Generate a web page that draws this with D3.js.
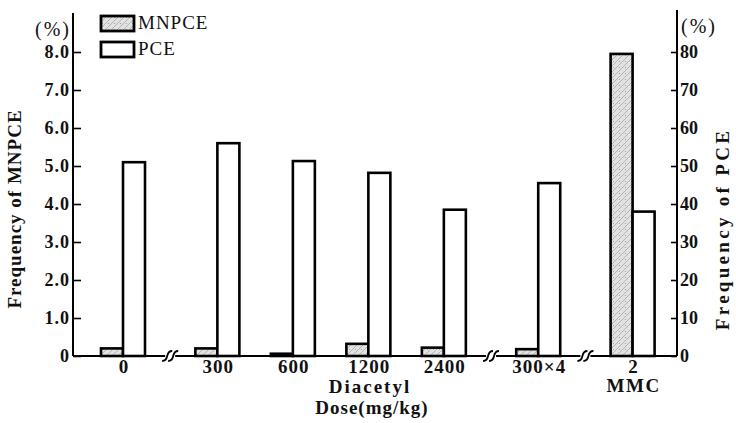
<!DOCTYPE html>
<html>
<head>
<meta charset="utf-8">
<script src="https://cdn.jsdelivr.net/npm/d3@7"></script>
<style>
  body { margin: 0; background: #fff; }
  svg text { font-family: "Liberation Serif", "DejaVu Serif", serif; fill: #111; }
</style>
</head>
<body>
<div id="chart"></div>
<script>
// dose groups (Diacetyl mg/kg, last one is MMC)
const doses = ["0", "300", "600", "1200", "2400", "300×4", "2"];
const mnpce = [0.2, 0.2, 0.06, 0.32, 0.22, 0.18, 7.95];   // %, left axis
const pce   = [51, 56, 51.3, 48.2, 38.5, 45.5, 38];        // %, right axis
const leftTicks  = [0, 1, 2, 3, 4, 5, 6, 7, 8];
const rightTicks = [0, 10, 20, 30, 40, 50, 60, 70, 80];

const width = 736, height = 423;
const breakAfter = [0, 4, 5];   // axis breaks between these groups
const barW = 22;

const svg = d3.select("#chart").append("svg")
    .attr("width", width)
    .attr("height", height);

// stippled fill for MNPCE
const defs = svg.append("defs");
const pat = defs.append("pattern")
    .attr("id", "stipple")
    .attr("patternUnits", "userSpaceOnUse")
    .attr("width", 6).attr("height", 6);
pat.append("rect").attr("width", 6).attr("height", 6).attr("fill", "#e2e2e2");
pat.append("path").attr("d", "M0,6 L6,0").attr("stroke", "#a8a8a8").attr("stroke-width", 0.8);
pat.append("circle").attr("cx", 1.5).attr("cy", 1.5).attr("r", 0.6).attr("fill", "#999");

// slot position: one unit per group plus a quarter unit per break
let slots = [], acc = 0;
doses.forEach((d, i) => {
    slots.push(i + acc);
    if (breakAfter.includes(i)) acc += 0.25;
});

const x = d3.scaleLinear().domain([0, d3.max(slots)]).range([123, 632.6]);
const yL = d3.scaleLinear().domain([0, 8]).range([356, 52]);
const yR = d3.scaleLinear().domain([0, 80]).range([356, 52]);

const axisLeftX = 73, axisRightX = 677;

// bars
const g = svg.append("g");
g.selectAll(".mn")
  .data(doses)
  .enter()
  .append("rect")
  .attr("class", "mn")
  .attr("x", (d, i) => x(slots[i]) - barW)
  .attr("y", (d, i) => yL(mnpce[i]))
  .attr("width", barW)
  .attr("height", (d, i) => yL(0) - yL(mnpce[i]))
  .attr("fill", "url(#stipple)")
  .attr("stroke", "#000")
  .attr("stroke-width", 2.6);

g.selectAll(".pc")
  .data(doses)
  .enter()
  .append("rect")
  .attr("class", "pc")
  .attr("x", (d, i) => x(slots[i]))
  .attr("y", (d, i) => yR(pce[i]))
  .attr("width", barW)
  .attr("height", (d, i) => yR(0) - yR(pce[i]))
  .attr("fill", "#fff")
  .attr("stroke", "#000")
  .attr("stroke-width", 2.6);

// baseline
svg.append("line")
   .attr("x1", axisLeftX).attr("x2", axisRightX)
   .attr("y1", yL(0)).attr("y2", yL(0))
   .attr("stroke", "#000").attr("stroke-width", 2);

// axis breaks at midpoints
breakAfter.forEach(i => {
    const cx = (x(slots[i]) + x(slots[i + 1])) / 2, cy = yL(0);
    svg.append("rect")
       .attr("x", cx - 5).attr("y", cy - 3).attr("width", 10).attr("height", 6)
       .attr("fill", "#fff");
    [-3, 3].forEach(o => {
        svg.append("path")
           .attr("d", `M${cx + o - 5},${cy + 5} Q${cx + o - 1},${cy + 5} ${cx + o},${cy} T${cx + o + 5},${cy - 5}`)
           .attr("fill", "none")
           .attr("stroke", "#000")
           .attr("stroke-width", 1.8);
    });
});

// left axis
const leftAxis = svg.append("g")
    .attr("transform", `translate(${axisLeftX},0)`)
    .call(d3.axisLeft(yL).tickValues(leftTicks)
          .tickFormat(d => d === 0 ? "0" : d3.format(".1f")(d))
          .tickSize(-8).tickSizeOuter(0).tickPadding(3));
leftAxis.select(".domain").remove();
leftAxis.selectAll(".tick line").attr("stroke", "#000").attr("stroke-width", 1.6);
leftAxis.selectAll(".tick text")
    .style("font-size", "18px").style("font-weight", "bold").style("letter-spacing", "1px");
svg.append("line")
   .attr("x1", axisLeftX).attr("x2", axisLeftX).attr("y1", 13).attr("y2", yL(0))
   .attr("stroke", "#000").attr("stroke-width", 2);

// right axis
const rightAxis = svg.append("g")
    .attr("transform", `translate(${axisRightX},0)`)
    .call(d3.axisRight(yR).tickValues(rightTicks)
          .tickSize(-6).tickSizeOuter(0).tickPadding(3));
rightAxis.select(".domain").remove();
rightAxis.selectAll(".tick line").attr("stroke", "#000").attr("stroke-width", 1.6);
rightAxis.selectAll(".tick text")
    .style("font-size", "18px").style("font-weight", "bold");
svg.append("line")
   .attr("x1", axisRightX).attr("x2", axisRightX).attr("y1", 10).attr("y2", yR(0))
   .attr("stroke", "#000").attr("stroke-width", 2);

// unit labels
svg.append("text").attr("x", 53).attr("y", 36).attr("text-anchor", "middle")
   .style("font-size", "20px").style("letter-spacing", "2px").text("(%)");
svg.append("text").attr("x", 699).attr("y", 33).attr("text-anchor", "middle")
   .style("font-size", "20px").style("letter-spacing", "2px").text("(%)");

// axis titles
svg.append("text")
   .attr("transform", "translate(21,209) rotate(-90)")
   .attr("text-anchor", "middle")
   .style("font-size", "19px").style("font-weight", "bold").style("letter-spacing", "1px")
   .text("Frequency of MNPCE");
svg.append("text")
   .attr("transform", "translate(729,229) rotate(-90)")
   .attr("text-anchor", "middle")
   .style("font-size", "19px").style("font-weight", "bold").style("letter-spacing", "3.3px")
   .text("Frequency of PCE");

// x labels
svg.selectAll(".xl")
   .data(doses)
   .enter()
   .append("text")
   .attr("class", "xl")
   .attr("x", (d, i) => x(slots[i]) + 1)
   .attr("y", 373)
   .attr("text-anchor", "middle")
   .style("font-size", "19px").style("font-weight", "bold").style("letter-spacing", "1px")
   .text(d => d);

svg.append("text").attr("x", x(slots[6]) + 1).attr("y", 392).attr("text-anchor", "middle")
   .style("font-size", "19px").style("font-weight", "bold").style("letter-spacing", "1.5px")
   .text("MMC");
svg.append("text").attr("x", 370).attr("y", 393).attr("text-anchor", "middle")
   .style("font-size", "19px").style("font-weight", "bold").style("letter-spacing", "2px")
   .text("Diacetyl");
svg.append("text").attr("x", 372).attr("y", 414).attr("text-anchor", "middle")
   .style("font-size", "19px").style("font-weight", "bold").style("letter-spacing", "1px")
   .text("Dose(mg/kg)");

// legend
const legend = [
    { label: "MNPCE", fill: "url(#stipple)" },
    { label: "PCE", fill: "#fff" }
];
const lg = svg.append("g").selectAll("g")
    .data(legend)
    .enter()
    .append("g")
    .attr("transform", (d, i) => `translate(101,${16 + i * 26})`);
lg.append("rect")
  .attr("width", 33).attr("height", 15)
  .attr("fill", d => d.fill)
  .attr("stroke", "#000").attr("stroke-width", 2.8);
lg.append("text")
  .attr("x", 37).attr("y", 13)
  .style("font-size", "19px").style("letter-spacing", "1px")
  .text(d => d.label);
</script>
</body>
</html>
